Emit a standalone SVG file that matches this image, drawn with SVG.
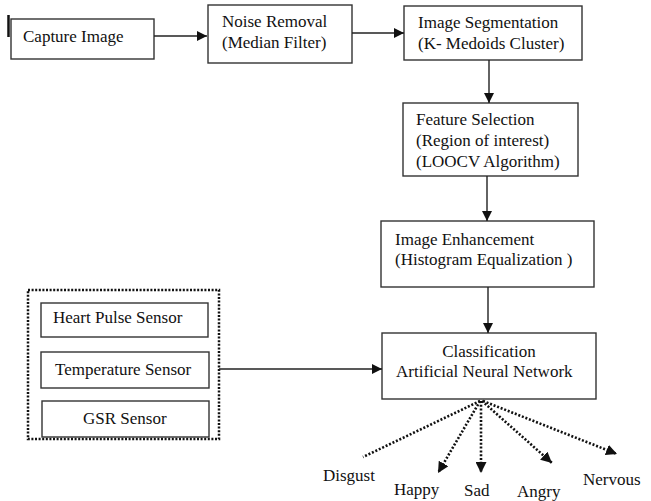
<svg xmlns="http://www.w3.org/2000/svg" width="651" height="501" viewBox="0 0 651 501">
<defs>
<style>
.box{fill:#fff;stroke:#333;stroke-width:1.4}
.t{font-family:'Liberation Serif','Times New Roman','DejaVu Serif',serif;font-size:17px;fill:#111}
.ln{stroke:#222;stroke-width:1.4;fill:none}
.dot{stroke:#111;stroke-width:2.6;fill:none;stroke-dasharray:2 1.8}
</style>
<marker id="ah" viewBox="0 0 10 10" refX="10" refY="5" markerWidth="10" markerHeight="10" markerUnits="userSpaceOnUse" orient="auto">
<path d="M0,0 L10,5 L0,10 Z" fill="#111"/>
</marker>
<marker id="ah2" viewBox="0 0 10 10" refX="10" refY="5" markerWidth="11" markerHeight="11" markerUnits="userSpaceOnUse" orient="auto">
<path d="M0,0 L10,5 L0,10 Z" fill="#111"/>
</marker>
</defs>
<rect width="651" height="501" fill="#fff"/>
<g id="capture">
<rect class="box" x="11" y="19" width="143" height="40"/>
<line x1="8.5" y1="15" x2="8.5" y2="37" stroke="#111" stroke-width="2.5"/>
<text class="t" font-family="Liberation Serif, serif" x="23" y="42">Capture Image</text>
</g>
<g id="noise">
<rect class="box" x="208" y="5" width="144" height="58"/>
<text class="t" font-family="Liberation Serif, serif" x="222" y="27">Noise Removal</text>
<text class="t" font-family="Liberation Serif, serif" x="222" y="48">(Median Filter)</text>
</g>
<g id="segmentation">
<rect class="box" x="404" y="6" width="178" height="54"/>
<text class="t" font-family="Liberation Serif, serif" x="418" y="28">Image Segmentation</text>
<text class="t" font-family="Liberation Serif, serif" x="418" y="49">(K- Medoids Cluster)</text>
</g>
<g id="feature">
<rect class="box" x="403" y="103" width="175" height="73"/>
<text class="t" font-family="Liberation Serif, serif" x="416" y="125">Feature Selection</text>
<text class="t" font-family="Liberation Serif, serif" x="416" y="146">(Region of interest)</text>
<text class="t" font-family="Liberation Serif, serif" x="416" y="167">(LOOCV Algorithm)</text>
</g>
<g id="enhancement">
<rect class="box" x="381" y="221" width="213" height="66"/>
<text class="t" font-family="Liberation Serif, serif" x="395" y="245">Image Enhancement</text>
<text class="t" font-family="Liberation Serif, serif" x="395" y="265">(Histogram Equalization )</text>
</g>
<g id="classification">
<rect class="box" x="382" y="333" width="214" height="66"/>
<text class="t" font-family="Liberation Serif, serif" x="489" y="357" text-anchor="middle">Classification</text>
<text class="t" font-family="Liberation Serif, serif" x="396" y="377">Artificial Neural Network</text>
</g>
<g id="sensors">
<rect x="28" y="290" width="191" height="149" fill="none" stroke="#111" stroke-width="2.5" stroke-dasharray="2 1.6"/>
<g id="heart">
<rect class="box" x="41" y="303" width="167" height="34"/>
<text class="t" font-family="Liberation Serif, serif" x="53" y="323">Heart Pulse Sensor</text>
</g>
<g id="temperature">
<rect class="box" x="41" y="352" width="168" height="36"/>
<text class="t" font-family="Liberation Serif, serif" x="55" y="375">Temperature Sensor</text>
</g>
<g id="gsr">
<rect class="box" x="42" y="401" width="167" height="36"/>
<text class="t" font-family="Liberation Serif, serif" x="83" y="424">GSR Sensor</text>
</g>
</g>
<g id="emotions">
<text class="t" font-family="Liberation Serif, serif" x="323" y="481">Disgust</text>
<text class="t" font-family="Liberation Serif, serif" x="394" y="495">Happy</text>
<text class="t" font-family="Liberation Serif, serif" x="464" y="496">Sad</text>
<text class="t" font-family="Liberation Serif, serif" x="517" y="497">Angry</text>
<text class="t" font-family="Liberation Serif, serif" x="583" y="485">Nervous</text>
</g>
<g id="connectors">
<line class="ln" x1="154" y1="36" x2="207" y2="36" marker-end="url(#ah)"/>
<line class="ln" x1="352" y1="33" x2="404" y2="33" marker-end="url(#ah)"/>
<line class="ln" x1="489" y1="60" x2="489" y2="103" marker-end="url(#ah)"/>
<line class="ln" x1="487" y1="176" x2="487" y2="221" marker-end="url(#ah)"/>
<line class="ln" x1="488" y1="287" x2="488" y2="333" marker-end="url(#ah)"/>
<line class="ln" x1="219" y1="369" x2="382" y2="369" marker-end="url(#ah)"/>
<line class="dot" x1="480" y1="401" x2="363" y2="457"/>
<line class="dot" x1="480" y1="401" x2="438" y2="473" marker-end="url(#ah2)"/>
<line class="dot" x1="481" y1="401" x2="481" y2="473" marker-end="url(#ah2)"/>
<line class="dot" x1="482" y1="401" x2="552" y2="463" marker-end="url(#ah2)"/>
<line class="dot" x1="483" y1="401" x2="617" y2="454" marker-end="url(#ah2)"/>
</g>
</svg>
